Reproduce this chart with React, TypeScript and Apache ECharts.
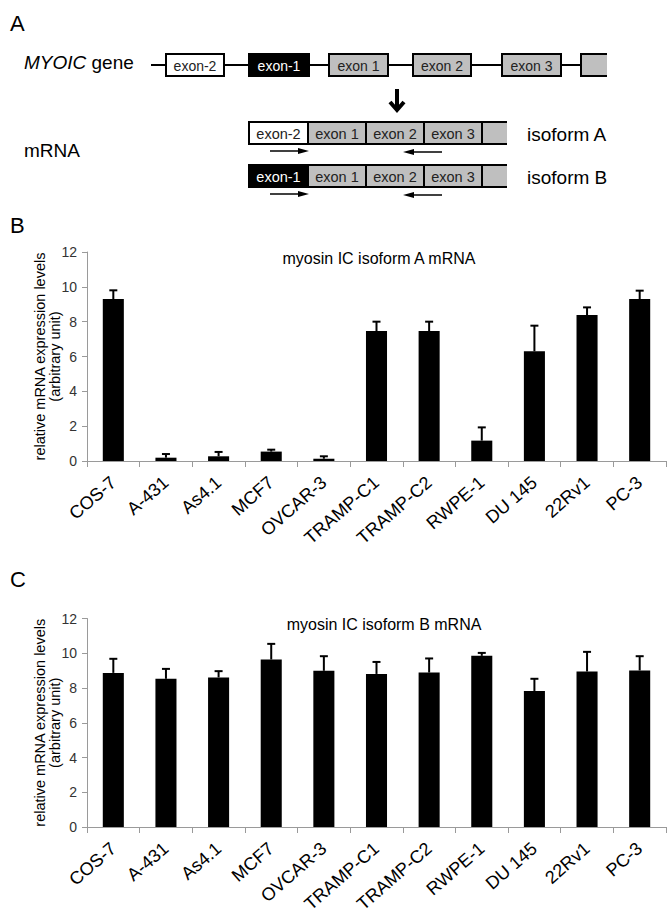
import React, { useEffect, useRef } from "react";
import * as echarts from "echarts";

const FONT = '"Liberation Sans", Arial, Helvetica, sans-serif';

const categories = ["COS-7", "A-431", "As4.1", "MCF7", "OVCAR-3", "TRAMP-C1", "TRAMP-C2", "RWPE-1", "DU 145", "22Rv1", "PC-3"];

const isoformA = [9.3, 0.19, 0.27, 0.54, 0.13, 7.46, 7.46, 1.17, 6.3, 8.38, 9.3];
const isoformAErr = [0.5, 0.21, 0.25, 0.11, 0.14, 0.54, 0.54, 0.76, 1.47, 0.44, 0.48];

const isoformB = [8.87, 8.53, 8.61, 9.64, 8.99, 8.81, 8.89, 9.85, 7.83, 8.95, 9.01];
const isoformBErr = [0.81, 0.57, 0.36, 0.9, 0.84, 0.69, 0.81, 0.17, 0.7, 1.13, 0.82];

const yTicks = { min: 0, max: 12, interval: 2 };

const titleA = "myosin IC isoform A mRNA";
const titleB = "myosin IC isoform B mRNA";
const yName = "relative mRNA expression levels\n(arbitrary unit)";

const GRAY = "#bfbfbf";
const AXIS_GRAY = "#9a9a9a";

function geneDiagram(): any[] {
  const els: any[] = [];
  const txt = (text: string, x: number, y: number, size: number, fill = "#000", align = "left", extra: any = {}) => ({
    type: "text",
    x,
    y,
    style: { text, fill, fontSize: size, fontFamily: FONT, align, verticalAlign: "middle", ...extra },
    z: 10,
  });
  els.push({ type: "text", x: 10, y: 12, style: { text: "A", fontSize: 22, fontFamily: FONT, fill: "#000" } });
  els.push({ type: "text", x: 10, y: 214, style: { text: "B", fontSize: 22, fontFamily: FONT, fill: "#000" } });
  els.push({ type: "text", x: 10, y: 568, style: { text: "C", fontSize: 22, fontFamily: FONT, fill: "#000" } });

  const gy = 54, gh = 22;
  els.push({ type: "line", shape: { x1: 151, y1: 65, x2: 582, y2: 65 }, style: { stroke: "#000", lineWidth: 2 } });
  const geneExons = [
    { label: "exon-2", x: 166, w: 58, fill: "#fff", color: "#222" },
    { label: "exon-1", x: 249, w: 60, fill: "#000", color: "#fff" },
    { label: "exon 1", x: 329, w: 59, fill: GRAY, color: "#222" },
    { label: "exon 2", x: 413, w: 58, fill: GRAY, color: "#222" },
    { label: "exon 3", x: 502, w: 59, fill: GRAY, color: "#222" },
  ];
  geneExons.forEach((e) => {
    els.push({ type: "rect", shape: { x: e.x, y: gy, width: e.w, height: gh }, style: { fill: e.fill, stroke: "#000", lineWidth: 2 } });
    els.push(txt(e.label, e.x + e.w / 2, gy + gh / 2 + 0.5, 14, e.color, "center"));
  });
  els.push({ type: "rect", shape: { x: 581, y: gy, width: 26, height: gh }, style: { fill: GRAY } });
  els.push({ type: "polyline", shape: { points: [[607, gy], [581, gy], [581, gy + gh], [607, gy + gh]] }, style: { stroke: "#000", lineWidth: 2, fill: null } });

  els.push({
    type: "text",
    x: 24,
    y: 53,
    style: {
      text: "{i|MYOIC} gene",
      fontSize: 19,
      fontFamily: FONT,
      fill: "#000",
      verticalAlign: "top",
      rich: { i: { fontStyle: "italic", fontSize: 19, fontFamily: FONT, fill: "#000" } },
    },
  });

  els.push({ type: "line", shape: { x1: 397, y1: 89, x2: 397, y2: 108 }, style: { stroke: "#000", lineWidth: 4 } });
  els.push({ type: "polyline", shape: { points: [[390, 102], [397, 110], [404, 102]] }, style: { stroke: "#000", lineWidth: 4, fill: null } });

  const rows = [
    { y: 122, first: { label: "exon-2", fill: "#fff", color: "#222" }, name: "isoform A", ay: 151 },
    { y: 165, first: { label: "exon-1", fill: "#000", color: "#fff" }, name: "isoform B", ay: 194 },
  ];
  const segs = [
    { x: 249, w: 59 },
    { x: 308, w: 58 },
    { x: 366, w: 58 },
    { x: 424, w: 58 },
  ];
  const segLabels = ["", "exon 1", "exon 2", "exon 3"];
  rows.forEach((r) => {
    const h = 22;
    els.push({ type: "rect", shape: { x: 482, y: r.y, width: 25, height: h }, style: { fill: GRAY } });
    els.push({ type: "line", shape: { x1: 482, y1: r.y, x2: 507, y2: r.y }, style: { stroke: "#000", lineWidth: 2 } });
    els.push({ type: "line", shape: { x1: 482, y1: r.y + h, x2: 507, y2: r.y + h }, style: { stroke: "#000", lineWidth: 2 } });
    segs.forEach((s, i) => {
      const fill = i === 0 ? r.first.fill : GRAY;
      const color = i === 0 ? r.first.color : "#222";
      const label = i === 0 ? r.first.label : segLabels[i];
      els.push({ type: "rect", shape: { x: s.x, y: r.y, width: s.w, height: h }, style: { fill, stroke: "#000", lineWidth: 2 } });
      els.push(txt(label, s.x + s.w / 2, r.y + h / 2 + 0.5, 14.5, color, "center"));
    });
    els.push(txt(r.name, 527, r.y + h / 2 + 1, 19));
    els.push({ type: "line", shape: { x1: 270, y1: r.ay, x2: 300, y2: r.ay }, style: { stroke: "#000", lineWidth: 1.5 } });
    els.push({ type: "polygon", shape: { points: [[298, r.ay - 3], [309, r.ay], [298, r.ay + 3]] }, style: { fill: "#000" } });
    els.push({ type: "line", shape: { x1: 442, y1: r.ay + 1, x2: 412, y2: r.ay + 1 }, style: { stroke: "#000", lineWidth: 1.5 } });
    els.push({ type: "polygon", shape: { points: [[414, r.ay - 2], [403, r.ay + 1], [414, r.ay + 4]] }, style: { fill: "#000" } });
  });
  els.push(txt("mRNA", 24, 150, 19));
  return els;
}

function errorSeries(values: number[], errs: number[], idx: number) {
  return {
    type: "custom",
    xAxisIndex: idx,
    yAxisIndex: idx,
    z: 5,
    data: values.map((v, i) => [i, v, errs[i]]),
    encode: { x: 0, y: 1 },
    renderItem: (_params: any, api: any) => {
      const x = api.value(0);
      const v = api.value(1);
      const e = api.value(2);
      const p0 = api.coord([x, v]);
      const p1 = api.coord([x, v + e]);
      const hw = 4;
      return {
        type: "group",
        children: [
          { type: "line", shape: { x1: p0[0], y1: p0[1], x2: p1[0], y2: p1[1] }, style: { stroke: "#000", lineWidth: 2 } },
          { type: "line", shape: { x1: p1[0] - hw, y1: p1[1], x2: p1[0] + hw, y2: p1[1] }, style: { stroke: "#000", lineWidth: 2 } },
        ],
      };
    },
  };
}

function xAxis(idx: number) {
  return {
    type: "category",
    gridIndex: idx,
    data: categories,
    boundaryGap: true,
    axisLine: { show: true, lineStyle: { color: AXIS_GRAY, width: 1 } },
    axisTick: { show: true, length: 6, lineStyle: { color: AXIS_GRAY } },
    axisLabel: { interval: 0, rotate: 41, margin: 19, fontSize: 18, color: "#000", fontFamily: FONT, hideOverlap: false },
    splitLine: { show: false },
  };
}

function yAxis(idx: number) {
  return {
    type: "value",
    gridIndex: idx,
    min: yTicks.min,
    max: yTicks.max,
    interval: yTicks.interval,
    name: yName,
    nameLocation: "middle",
    nameRotate: 90,
    nameGap: 24,
    nameMoveOverlap: false,
    nameTextStyle: { fontSize: 14.5, lineHeight: 15.5, color: "#000", fontFamily: FONT },
    axisLine: { show: true, lineStyle: { color: AXIS_GRAY, width: 1 } },
    axisTick: { show: true, length: 5, lineStyle: { color: AXIS_GRAY } },
    axisLabel: { fontSize: 14, color: "#333", margin: 10, fontFamily: FONT },
    splitLine: { show: false },
  };
}

export default function App() {
  const ref = useRef<HTMLDivElement>(null);
  useEffect(() => {
    if (!ref.current) return;
    const chart = echarts.init(ref.current, null, { renderer: "svg" });
    chart.setOption({
      animation: false,
      backgroundColor: "#fff",
      textStyle: { fontFamily: FONT },
      title: [
        { text: titleA, left: 374, top: 245, textAlign: "center", textStyle: { fontSize: 16, fontWeight: "normal", color: "#000", fontFamily: FONT } },
        { text: titleB, left: 379, top: 611, textAlign: "center", textStyle: { fontSize: 16, fontWeight: "normal", color: "#000", fontFamily: FONT } },
      ],
      grid: [
        { left: 87, top: 252, width: 579, height: 209, containLabel: false, outerBoundsMode: "none" },
        { left: 87, top: 618.5, width: 579, height: 208.5, containLabel: false, outerBoundsMode: "none" },
      ],
      xAxis: [xAxis(0), xAxis(1)],
      yAxis: [yAxis(0), yAxis(1)],
      series: [
        { type: "bar", xAxisIndex: 0, yAxisIndex: 0, data: isoformA, barWidth: "40%", itemStyle: { color: "#000" } },
        errorSeries(isoformA, isoformAErr, 0),
        { type: "bar", xAxisIndex: 1, yAxisIndex: 1, data: isoformB, barWidth: "40%", itemStyle: { color: "#000" } },
        errorSeries(isoformB, isoformBErr, 1),
      ],
      graphic: { elements: geneDiagram() },
    });
    return () => chart.dispose();
  }, []);
  return <div ref={ref} style={{ position: "absolute", left: 0, top: 0, width: 672, height: 916 }} />;
}
